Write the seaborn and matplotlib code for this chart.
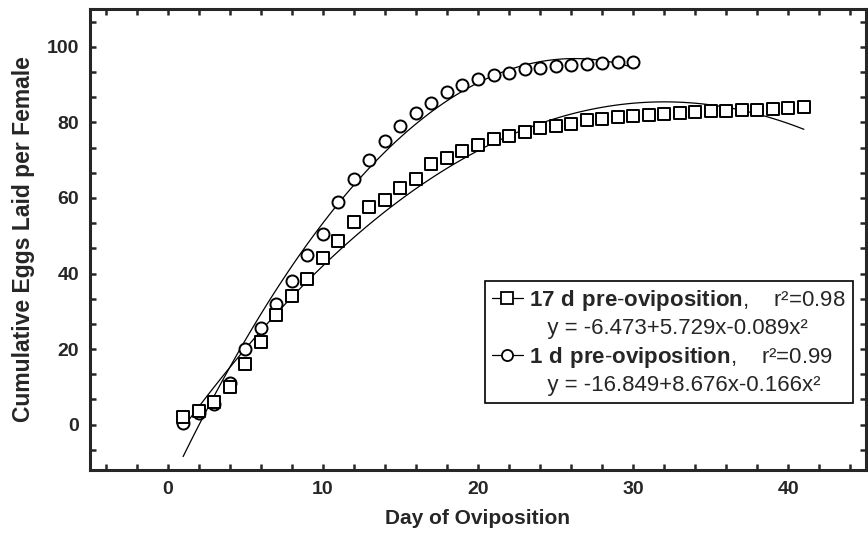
import matplotlib
matplotlib.use('Agg')
import pandas as pd
import matplotlib.pyplot as plt
import seaborn as sns
from matplotlib.lines import Line2D
from matplotlib.ticker import MultipleLocator

# dados
dias_17d = list(range(1, 42))
ovos_17d = [2, 3.5, 6, 10, 16, 22, 29, 34, 38.5, 44,
            48.5, 53.5, 57.5, 59.5, 62.5, 65, 69, 70.5, 72.5, 74,
            75.5, 76.5, 77.5, 78.5, 79, 79.5, 80.5, 81, 81.5, 81.8,
            82, 82.3, 82.5, 82.8, 83, 83, 83.2, 83.4, 83.6, 83.8, 84]

dias_1d = list(range(1, 31))
ovos_1d = [0.5, 3, 5.5, 11, 20, 25.5, 32, 38, 45, 50.5,
           59, 65, 70, 75, 79, 82.5, 85, 88, 90, 91.5,
           92.5, 93, 94, 94.5, 95, 95.2, 95.5, 95.7, 96, 96]

rotulos = [r"$\mathbf{17\ d\ pre}$-$\mathbf{oviposition}$,    r²=0.98",
           "   y = -6.473+5.729x-0.089x²",
           r"$\mathbf{1\ d\ pre}$-$\mathbf{oviposition}$,    r²=0.99",
           "   y = -16.849+8.676x-0.166x²"]

df17 = pd.DataFrame({'dia': dias_17d, 'ovos': ovos_17d})
df1 = pd.DataFrame({'dia': dias_1d, 'ovos': ovos_1d})

sns.set_style('ticks')
plt.rcParams['font.family'] = ['Liberation Sans', 'DejaVu Sans']
plt.rcParams['mathtext.fontset'] = 'custom'
plt.rcParams['mathtext.rm'] = 'Liberation Sans'
plt.rcParams['mathtext.bf'] = 'Liberation Sans:bold'

fig, ax = plt.subplots(figsize=(8.68, 5.34), dpi=100)
fig.subplots_adjust(left=90/868, right=866/868, top=1-9/534, bottom=1-470/534)

# curvas ajustadas (quadratica)
sns.regplot(data=df1, x='dia', y='ovos', order=2, ci=None, scatter=False,
            truncate=True, line_kws=dict(color='black', lw=0.9), ax=ax)
sns.regplot(data=df17, x='dia', y='ovos', order=2, ci=None, scatter=False,
            truncate=True, line_kws=dict(color='black', lw=0.9), ax=ax)

sns.scatterplot(data=df1, x='dia', y='ovos', marker='o', s=75, color='white',
                edgecolor='black', linewidth=1.4, ax=ax, zorder=3)
sns.scatterplot(data=df17, x='dia', y='ovos', marker='s', s=70, color='white',
                edgecolor='black', linewidth=1.4, ax=ax, zorder=4)

ax.set_xlim(-5, 45)
ax.set_ylim(-12, 110)
ax.xaxis.set_major_locator(MultipleLocator(10))
ax.xaxis.set_minor_locator(MultipleLocator(2))
ax.yaxis.set_major_locator(MultipleLocator(20))
ax.yaxis.set_minor_locator(MultipleLocator(20/3))
ax.tick_params(which='both', direction='in', length=4.5, width=1.8,
               top=True, right=True)
ax.tick_params(which='major', labelsize=14, pad=8)
for lab in ax.get_xticklabels() + ax.get_yticklabels():
    lab.set_fontweight('bold')
for s in ax.spines.values():
    s.set_linewidth(2.2)

ax.set_xlabel('Day of Oviposition', fontsize=15, fontweight='bold', labelpad=8)
ax.set_ylabel('Cumulative Eggs Laid per Female', fontsize=16.5, fontweight='bold', labelpad=8)

h_sq = Line2D([], [], color='black', lw=0.9, marker='s', markersize=8,
              markerfacecolor='white', markeredgecolor='black', markeredgewidth=1.3)
h_ci = Line2D([], [], color='black', lw=0.9, marker='o', markersize=8,
              markerfacecolor='white', markeredgecolor='black', markeredgewidth=1.3)
h_nada = Line2D([], [], color='none')
leg = ax.legend([h_sq, h_nada, h_ci, h_nada], rotulos, loc='upper right',
                bbox_to_anchor=(0.997, 0.434), fontsize=16, frameon=True,
                fancybox=False, framealpha=1, edgecolor='black',
                handlelength=1.4, handletextpad=0.3, labelspacing=0.25,
                borderpad=0.3)
leg.get_frame().set_linewidth(1.2)

plt.savefig('out.png', dpi=100)
